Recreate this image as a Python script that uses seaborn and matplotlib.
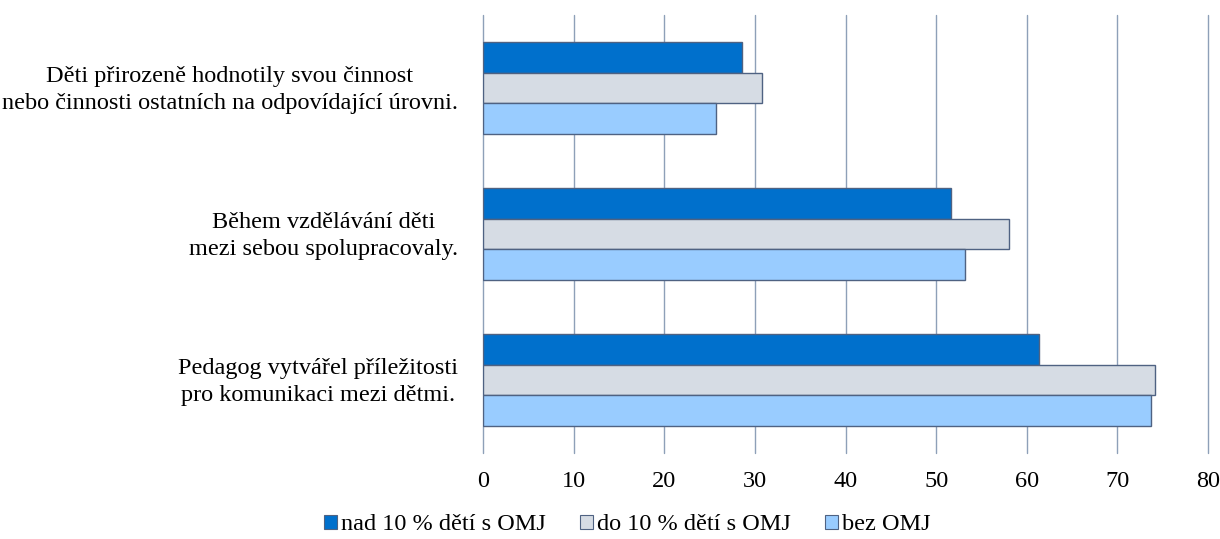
import matplotlib
matplotlib.use("Agg")
import matplotlib.pyplot as plt
import matplotlib.transforms as mtransforms
import seaborn as sns
import pandas as pd
from matplotlib.patches import Patch

categories = [
    "Děti přirozeně hodnotily svou činnost\nnebo činnosti ostatních na odpovídající úrovni.",
    "Během vzdělávání děti\nmezi sebou spolupracovaly.",
    "Pedagog vytvářel příležitosti\npro komunikaci mezi dětmi.",
]
series = ["nad 10 % dětí s OMJ", "do 10 % dětí s OMJ", "bez OMJ"]
nad10 = [28.6, 51.6, 61.3]
do10 = [30.8, 58.0, 74.1]
bez = [25.7, 53.2, 73.7]
xticks = [0, 10, 20, 30, 40, 50, 60, 70, 80]

colors = ["#0070CC", "#D6DCE4", "#99CCFF"]
edge = "#4F6282"

rows = []
for vals, s in zip([nad10, do10, bez], series):
    for c, v in zip(categories, vals):
        rows.append({"cat": c, "series": s, "val": v})
df = pd.DataFrame(rows)

sns.set_theme(style="white")
plt.rcParams["font.family"] = ["Liberation Serif", "DejaVu Serif"]
plt.rcParams["text.color"] = "black"
plt.rcParams["xtick.color"] = "black"
plt.rcParams["ytick.color"] = "black"

FS = 17.5
fig = plt.figure(figsize=(12.2, 5.39), dpi=100)
ax = fig.add_axes([483 / 1220, 1 - 453 / 539, (1208 - 483) / 1220, (453 - 15) / 539])

sns.barplot(data=df, y="cat", x="val", hue="series", order=categories,
            hue_order=series, palette=colors, orient="h", width=0.63,
            edgecolor=edge, linewidth=1.0, ax=ax, legend=False, saturation=1)

ax.set_xlim(0, 80)
ax.set_xticks(xticks)
ax.set_xticklabels([str(t) for t in xticks], fontsize=FS)
ax.set_ylim(2.5, -0.5)
ax.grid(axis="x", color="#8EA0B8", linewidth=1.0)
for gl in ax.get_xgridlines():
    gl.set_clip_on(False)
ax.set_axisbelow(True)
for s in ax.spines.values():
    s.set_visible(False)
ax.set_xlabel("")
ax.set_ylabel("")
ax.tick_params(axis="both", length=0, labelcolor="black")
ax.tick_params(axis="x", pad=13)
ax.tick_params(axis="y", pad=18)
shift = mtransforms.ScaledTranslation(0, 3.5 / 100, fig.dpi_scale_trans)
for lab in ax.get_yticklabels():
    lab.set_fontsize(FS)
    lab.set_multialignment("center")
    lab.set_linespacing(1.37)
    lab.set_transform(lab.get_transform() + shift)

handles = [Patch(facecolor=c, edgecolor=edge, linewidth=0.8) for c in colors]
fig.legend(handles, series, loc="center", bbox_to_anchor=(0.514, 0.026), ncol=3,
           frameon=False, fontsize=FS, handlelength=0.55, handleheight=0.55,
           handletextpad=0.15, columnspacing=1.4)

fig.savefig("out.png", dpi=100)
